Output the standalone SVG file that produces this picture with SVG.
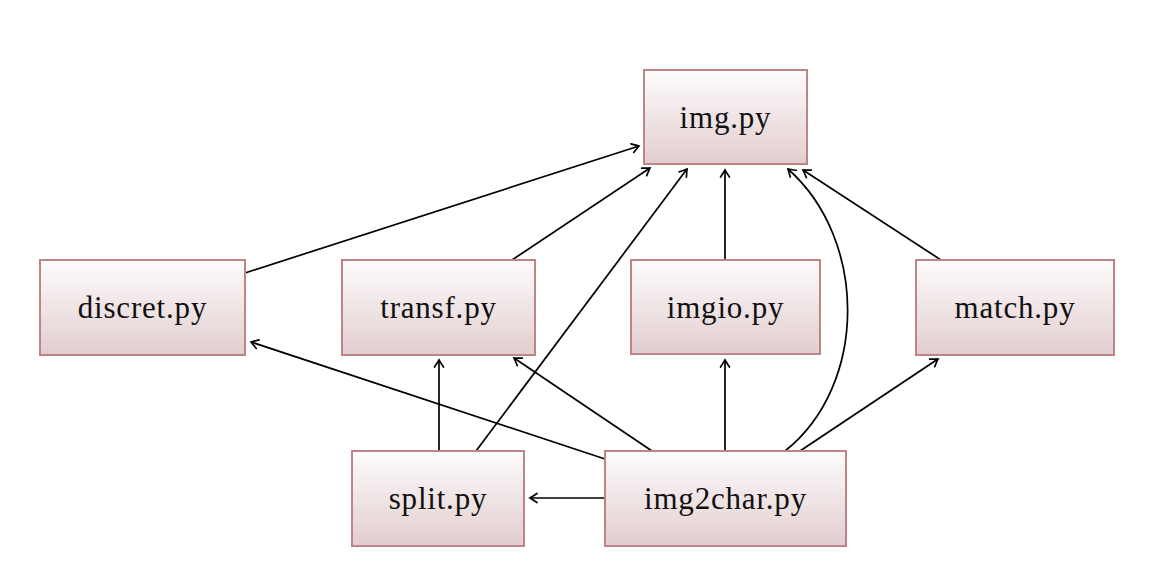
<svg xmlns="http://www.w3.org/2000/svg" width="1160" height="574" viewBox="0 0 1160 574">
<style>
.box{stroke:#bf8585;stroke-width:2;fill:url(#g)}
.lbl{font-family:"Liberation Serif","DejaVu Serif",serif;font-size:31px;letter-spacing:0.8px;fill:#111;text-anchor:middle;dominant-baseline:central}
.e{fill:none;stroke:#000;stroke-width:1.7;marker-end:url(#a)}
</style>
<defs>
<linearGradient id="g" x1="0" y1="0" x2="0" y2="1">
<stop offset="0" stop-color="#fdfcfc"/>
<stop offset="1" stop-color="#e2cdcf"/>
</linearGradient>
<marker id="a" markerUnits="userSpaceOnUse" markerWidth="14" markerHeight="14" viewBox="-10 -7 12 14" refX="0" refY="0" orient="auto">
<path d="M-7,-4.5 Q-2,-1.2 0,0 Q-2,1.2 -7,4.5" fill="none" stroke="#000" stroke-width="1.7" stroke-linecap="round"/>
</marker>
</defs>
<g id="edges">
<path class="e" d="M245,273 L639,146"/>
<path class="e" d="M512,260 L650,168"/>
<path class="e" d="M725,260 L725,170"/>
<path class="e" d="M941,260 L803,170"/>
<path class="e" d="M785,451 C868,385 868,240 788,169"/>
<path class="e" d="M476,451 L687,169"/>
<path class="e" d="M605,459 L251,342"/>
<path class="e" d="M439,451 L439,360"/>
<path class="e" d="M652,451 L514,358"/>
<path class="e" d="M725,451 L725,360"/>
<path class="e" d="M800,451 L938,359"/>
<path class="e" d="M605,498 L530,498"/>
</g>
<g id="img"><rect class="box" x="644" y="70" width="163" height="94"/><text class="lbl" x="725.5" y="117">img.py</text></g>
<g id="discret"><rect class="box" x="40" y="260" width="205" height="95"/><text class="lbl" x="142.5" y="307">discret.py</text></g>
<g id="transf"><rect class="box" x="342" y="260" width="193" height="95"/><text class="lbl" x="438.5" y="307">transf.py</text></g>
<g id="imgio"><rect class="box" x="631" y="260" width="189" height="94"/><text class="lbl" x="725.5" y="307">imgio.py</text></g>
<g id="match"><rect class="box" x="916" y="260" width="198" height="95"/><text class="lbl" x="1015" y="307">match.py</text></g>
<g id="split"><rect class="box" x="352" y="451" width="172" height="95"/><text class="lbl" x="438" y="498">split.py</text></g>
<g id="img2char"><rect class="box" x="605" y="451" width="241" height="95"/><text class="lbl" x="725.5" y="498">img2char.py</text></g>
</svg>
